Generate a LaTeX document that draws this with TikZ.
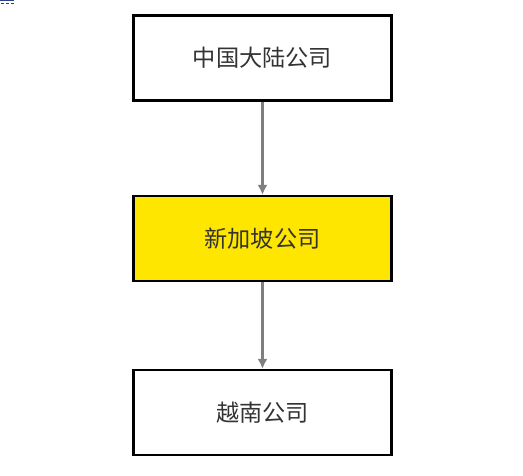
\documentclass[tikz,border=0pt]{standalone}
\usepackage{fontspec}
\usetikzlibrary{arrows.meta}
\newfontfamily\cjk{Noto Sans CJK SC}
\definecolor{boxyellow}{HTML}{FFE600}
\definecolor{linkgray}{HTML}{7F7F7F}
\definecolor{txtgray}{HTML}{333333}
\definecolor{markblue}{HTML}{2B3F8C}
\begin{document}
\begin{tikzpicture}[x=1pt, y=1pt, >=latex,
	company/.style={draw=black, line width=2.2pt, minimum width=258pt, minimum height=85pt,
		inner sep=0pt, text=txtgray, font=\cjk\fontsize{23.2}{27}\selectfont},
	flow/.style={->, draw=linkgray, line width=2.2pt, >={Latex[length=10pt, width=10pt]}}]
	% 1. 画布范围
	\useasboundingbox (0,0) rectangle (523,-476);
	
	% 左上角小标记
	\draw[markblue, line width=1pt] (0,-1) -- (14,-1);
	\draw[markblue, line width=1pt, dash pattern=on 3pt off 2pt] (1,-4) -- (14,-4);
	
	% 2. 三个公司方框
	\node[company] (mainland) at (262.5,-58) {中国大陆公司};
	\node[company, fill=boxyellow] (singapore) at (262.5,-238.5) {新加坡公司};
	\node[company] (vietnam) at (262.5,-412.5) {越南公司};
	
	% 3. 连接箭头
	\draw[flow] (mainland) -- (singapore);
	\draw[flow] (singapore) -- (vietnam);
	
\end{tikzpicture}
\end{document}
